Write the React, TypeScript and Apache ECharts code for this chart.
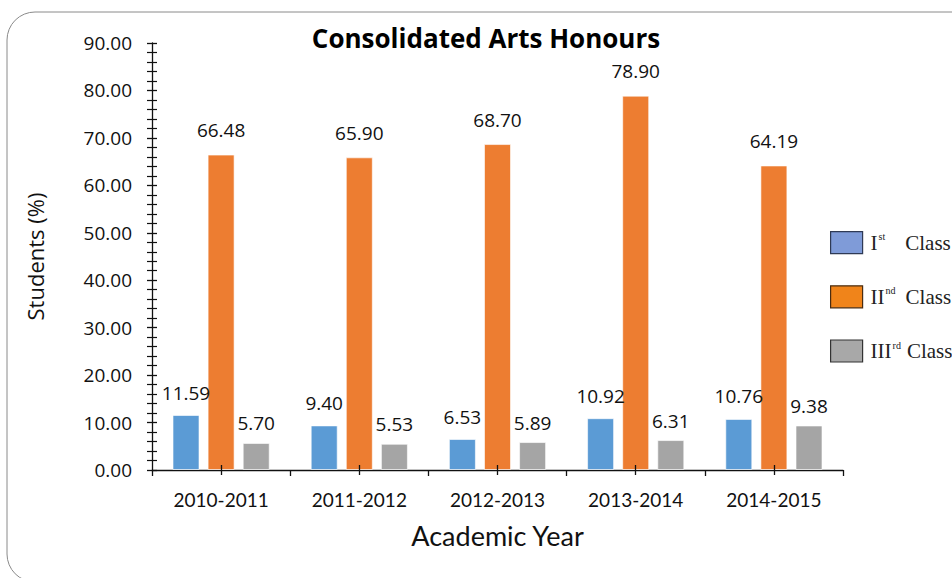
import React, { useEffect, useRef } from "react";
import * as echarts from "echarts";

const years = ["2010-2011", "2011-2012", "2012-2013", "2013-2014", "2014-2015"];
const firstClass = [11.59, 9.4, 6.53, 10.92, 10.76];
const secondClass = [66.48, 65.9, 68.7, 78.9, 64.19];
const thirdClass = [5.7, 5.53, 5.89, 6.31, 9.38];
const seriesNames = ["Ist Class", "IInd Class", "IIIrd Class"];
const legendRich: Record<string, string> = {
  "Ist Class": "{r|I}{s|st}{g1| }{r|Class}",
  "IInd Class": "{r|II}{s|nd}{g2| }{r|Class}",
  "IIIrd Class": "{r|III}{s|rd}{g3| }{r|Class}",
};

export default function App() {
  const ref = useRef<HTMLDivElement>(null);
  useEffect(() => {
    const chart = echarts.init(ref.current!, undefined, { renderer: "svg" });
    const fmt = (v: number) => v.toFixed(2);
    const labelFont = { fontFamily: "'Open Sans'", fontSize: 19, color: "#111" };
    const mkSeries = (name: string, data: number[], color: string, dist: number) => ({
      name,
      type: "bar",
      data,
      barWidth: 27,
      barGap: "30%",
      itemStyle: { color, borderColor: "rgba(255,255,255,0.6)", borderWidth: 1 },
      label: {
        show: true,
        position: "top",
        distance: dist,
        formatter: (p: any) => fmt(p.value),
        ...labelFont,
      },
    });
    const yBase = {
      type: "value",
      min: 0,
      max: 90,
      interval: 10,
      splitLine: { show: false },
    };
    chart.setOption({
      animation: false,
      backgroundColor: "#ffffff",
      grid: { left: 152, right: 109, top: 43, bottom: 108, containLabel: false },
      graphic: [
        {
          type: "rect",
          shape: { x: 7, y: 12, width: 1000, height: 570, r: 28 },
          style: { fill: "none", stroke: "#8a8a8a", lineWidth: 1 },
          silent: true,
          z: -1,
        },
        {
          type: "text",
          x: 486,
          y: 38,
          style: {
            text: "Consolidated Arts Honours",
            textAlign: "center",
            textVerticalAlign: "middle",
            fontFamily: "'Open Sans'",
            fontWeight: "bold",
            fontSize: 26,
            fill: "#000",
          },
        },
      ],
      legend: {
        orient: "vertical",
        left: 830,
        top: 231,
        padding: 0,
        itemWidth: 32,
        itemHeight: 22,
        itemGap: 31,
        icon: "rect",
        data: [
          { name: seriesNames[0], itemStyle: { color: "#7f9bd8", borderColor: "#2f3a55", borderWidth: 1.2 } },
          { name: seriesNames[1], itemStyle: { color: "#f0841a", borderColor: "#4a2c10", borderWidth: 1.2 } },
          { name: seriesNames[2], itemStyle: { color: "#a8a8a8", borderColor: "#333333", borderWidth: 1.2 } },
        ],
        formatter: (n: string) => legendRich[n] || n,
        textStyle: {
          color: "#222",
          fontFamily: "'Liberation Serif'",
          fontSize: 21,
          padding: [0, 0, 0, 3],
          rich: {
            r: { fontFamily: "'Liberation Serif'", fontSize: 21, color: "#222", lineHeight: 22 },
            g1: { fontSize: 21, lineHeight: 22, width: 20 },
            g2: { fontSize: 21, lineHeight: 22, width: 10 },
            g3: { fontSize: 21, lineHeight: 22, width: 6 },
            s: { fontFamily: "'Liberation Serif'", fontSize: 10, color: "#222", verticalAlign: "top", lineHeight: 12, padding: [0, 0, 0, 1] },
          },
        },
      },
      xAxis: [
        {
          type: "category",
          data: years,
          boundaryGap: true,
          axisLine: { show: true, lineStyle: { color: "#111", width: 1.3 } },
          axisTick: { show: true, alignWithLabel: false, length: 6, lineStyle: { color: "#111", width: 1.3 } },
          axisLabel: { margin: 20, fontFamily: "Lato", fontSize: 19, color: "#111" },
          name: "Academic Year",
          nameLocation: "middle",
          nameGap: 52,
          nameTextStyle: { fontFamily: "Lato", fontSize: 27, color: "#111" },
        },
        {
          type: "category",
          data: years,
          position: "bottom",
          z: 5,
          axisLine: { show: false },
          axisLabel: { show: false },
          axisTick: { show: true, alignWithLabel: true, inside: true, length: 5, lineStyle: { color: "#111", width: 1.3 } },
        },
        {
          type: "category",
          data: years,
          position: "bottom",
          axisLine: { show: false },
          axisLabel: { show: false },
          axisTick: { show: true, alignWithLabel: true, inside: false, length: 5, lineStyle: { color: "#111", width: 1.3 } },
        },
      ],
      yAxis: [
        {
          ...yBase,
          axisLine: { show: true, lineStyle: { color: "#111", width: 1.3 } },
          axisTick: { show: true, length: 5, lineStyle: { color: "#111", width: 1.3 } },
          minorTick: { show: true, splitNumber: 5, length: 5, lineStyle: { color: "#111", width: 1.2 } },
          axisLabel: { margin: 20, formatter: (v: number) => fmt(v), ...labelFont },
          name: "Students (%)",
          nameLocation: "middle",
          nameGap: 106,
          nameTextStyle: { fontFamily: "'Open Sans'", fontSize: 22, color: "#111" },
        },
        {
          ...yBase,
          position: "left",
          axisLine: { show: false },
          axisTick: { show: true, inside: true, length: 5, lineStyle: { color: "#111", width: 1.3 } },
          minorTick: { show: true, splitNumber: 5, length: 5, lineStyle: { color: "#111", width: 1.2 } },
          axisLabel: { show: false },
        },
      ],
      series: [
        mkSeries(seriesNames[0], firstClass, "#5b9bd5", 13),
        mkSeries(seriesNames[1], secondClass, "#ed7d31", 15),
        mkSeries(seriesNames[2], thirdClass, "#a5a5a5", 10),
      ],
    });
    return () => chart.dispose();
  }, []);
  return (
    <div
      ref={ref}
      style={{ position: "absolute", left: 0, top: 0, width: 952, height: 578 }}
    />
  );
}
